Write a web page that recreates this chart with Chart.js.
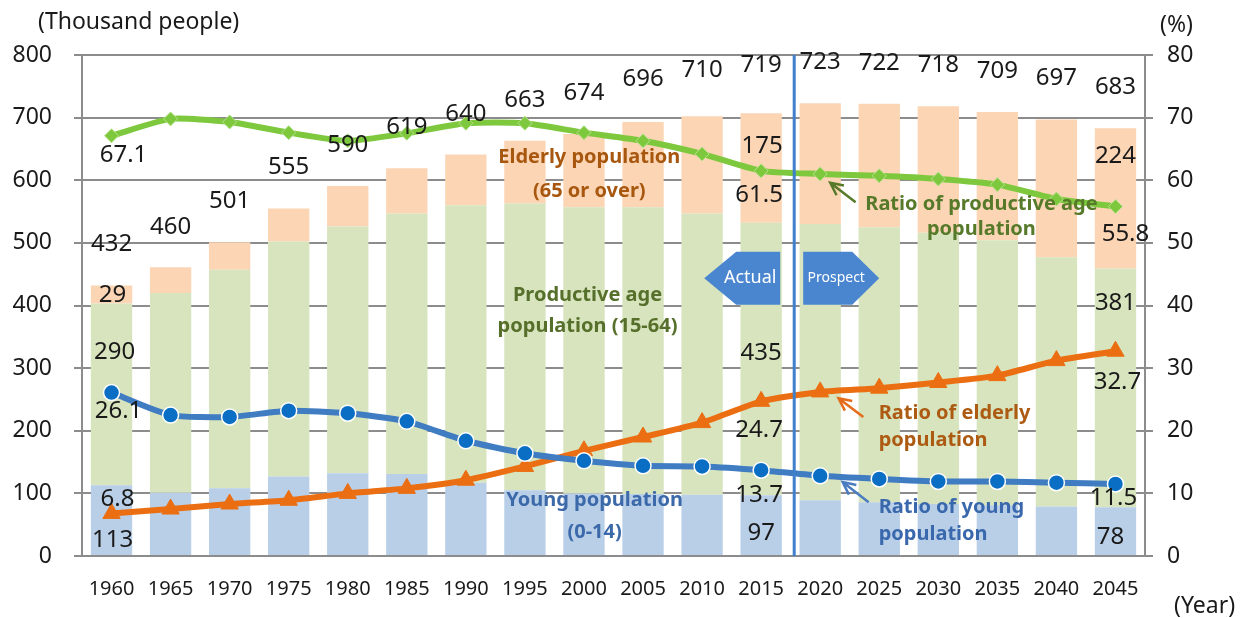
<!DOCTYPE html>
<html>
<head>
<meta charset="utf-8">
<script src="https://cdn.jsdelivr.net/npm/chart.js@4.4.1/dist/chart.umd.min.js"></script>
<style>
  html, body { margin: 0; padding: 0; background: #fff; }
  #wrap { width: 1243px; height: 618px; position: relative; }
</style>
</head>
<body>
<div id="wrap"><canvas id="popChart"></canvas></div>
<script>
// data
const years = ['1960','1965','1970','1975','1980','1985','1990','1995','2000','2005','2010','2015','2020','2025','2030','2035','2040','2045'];
const youngPop      = [113,101,108,127,132,131,117,105,100, 99, 98, 97, 89, 86, 83, 81, 79, 78];
const productivePop = [290,319,349,375,394,416,443,458,457,458,449,435,441,439,433,423,398,381];
const elderlyPop    = [ 29, 41, 44, 53, 65, 72, 81,100,117,136,155,175,193,197,202,205,220,224];
const totalPop      = [432,460,501,555,590,619,640,663,674,696,710,719,723,722,718,709,697,683];
const youngRatio      = [26.1,22.5,22.2,23.2,22.8,21.5,18.4,16.4,15.2,14.4,14.3,13.7,12.8,12.3,11.9,11.9,11.7,11.5];
const productiveRatio = [67.1,69.8,69.3,67.6,66.3,67.5,69.1,69.1,67.6,66.3,64.2,61.5,61.0,60.7,60.2,59.3,57.0,55.8];
const elderlyRatio    = [ 6.8, 7.5, 8.3, 8.9,10.0,10.8,12.1,14.3,16.8,19.0,21.3,24.7,26.2,26.8,27.7,28.8,31.2,32.7];

const FONT = '"Noto Sans", "DejaVu Sans", sans-serif';
const GRID = '#8c8c8c';

// which values get a number printed next to them: [dataset, index, dx, dy]
const valueLabels = [
  [2, 0, 1, 10], [1, 0, 3, 49], [0, 0, 1, 55], [3, 0, 12, 19], [4, 0, 7, 19], [5, 0, 6, -14],
  [2, 11, 1, 33], [1, 11, 0, 130], [0, 11, 0, 38], [3, 11, -2, 24], [5, 11, -2, 29], [4, 11, -2, 25],
  [2, 17, 0, 28], [1, 17, 0, 35], [0, 17, -5, 30], [3, 17, 10, 28], [5, 17, 2, 31], [4, 17, -2, 14]
];

const labelPlugin = {
  id: 'labels',
  afterDatasetsDraw(chart) {
    const ctx = chart.ctx;
    const x = chart.scales.x, y = chart.scales.y;
    const area = chart.chartArea;
    ctx.save();

    // Actual / Prospect divider
    const xLine = x.getPixelForValue(11.56);
    ctx.strokeStyle = '#3f7fcc';
    ctx.lineWidth = 3;
    ctx.beginPath();
    ctx.moveTo(xLine, area.top);
    ctx.lineTo(xLine, area.bottom);
    ctx.stroke();

    const top = y.getPixelForValue(486), bot = y.getPixelForValue(401), mid = (top + bot) / 2;
    ctx.fillStyle = '#4a86cf';
    // Actual arrow (points left)
    let r = xLine - 14, l = r - 76;
    ctx.beginPath();
    ctx.moveTo(l, mid); ctx.lineTo(l + 32, top); ctx.lineTo(r, top);
    ctx.lineTo(r, bot); ctx.lineTo(l + 32, bot); ctx.closePath(); ctx.fill();
    // Prospect arrow (points right)
    l = xLine + 9; r = l + 76;
    ctx.beginPath();
    ctx.moveTo(l, top); ctx.lineTo(r - 27, top); ctx.lineTo(r, mid);
    ctx.lineTo(r - 27, bot); ctx.lineTo(l, bot); ctx.closePath(); ctx.fill();
    ctx.fillStyle = '#ffffff';
    ctx.textAlign = 'center';
    ctx.textBaseline = 'middle';
    ctx.font = '18px ' + FONT;
    ctx.fillText('Actual', xLine - 14 - 30, mid);
    ctx.font = '14px ' + FONT;
    ctx.fillText('Prospect', xLine + 9 + 33, mid);

    // totals above bars
    ctx.fillStyle = '#1a1a1a';
    ctx.font = '24px ' + FONT;
    totalPop.forEach((v, i) => {
      ctx.fillText(String(v), x.getPixelForValue(i), y.getPixelForValue(v) - 41);
    });

    // selected values
    valueLabels.forEach(([d, i, dx, dy]) => {
      const el = chart.getDatasetMeta(d).data[i];
      const v = chart.data.datasets[d].data[i];
      ctx.fillText(d >= 3 ? v.toFixed(1) : String(v), el.x + dx, el.y + dy);
    });

    // series names inside the plot
    const txt = (s, col, i, v, align) => {
      ctx.fillStyle = col;
      ctx.textAlign = align;
      ctx.fillText(s, x.getPixelForValue(i), y.getPixelForValue(v));
    };
    ctx.font = 'bold 20px ' + FONT;
    txt('Elderly population', '#a8570f', 8.09, 636, 'center');
    txt('(65 or over)', '#a8570f', 8.09, 583, 'center');
    txt('Productive age', '#566f2a', 8.06, 417, 'center');
    txt('population (15-64)', '#566f2a', 8.06, 367, 'center');
    txt('Young population', '#3c69aa', 8.18, 89.5, 'center');
    txt('(0-14)', '#3c69aa', 8.18, 38, 'center');
    txt('Ratio of productive age', '#567a2a', 14.73, 562, 'center');
    txt('population', '#567a2a', 14.73, 522, 'center');
    txt('Ratio of elderly', '#ad5a12', 12.99, 228, 'left');
    txt('population', '#ad5a12', 12.99, 185, 'left');
    txt('Ratio of young', '#3a68ad', 12.99, 77, 'left');
    txt('population', '#3a68ad', 12.99, 34, 'left');

    // pointer arrows
    const arrow = (col, i0, v0, i1, v1) => {
      const x0 = x.getPixelForValue(i0), y0 = y.getPixelForValue(v0);
      const x1 = x.getPixelForValue(i1), y1p = y.getPixelForValue(v1);
      const a = Math.atan2(y1p - y0, x1 - x0);
      ctx.strokeStyle = col;
      ctx.lineWidth = 2.5;
      ctx.beginPath();
      ctx.moveTo(x0, y0); ctx.lineTo(x1, y1p);
      ctx.moveTo(x1 + 14 * Math.cos(a + Math.PI - 0.45), y1p + 14 * Math.sin(a + Math.PI - 0.45));
      ctx.lineTo(x1, y1p);
      ctx.lineTo(x1 + 14 * Math.cos(a + Math.PI + 0.45), y1p + 14 * Math.sin(a + Math.PI + 0.45));
      ctx.stroke();
    };
    arrow('#567a2a', 12.6, 565, 12.17, 596);
    arrow('#e46c1a', 12.73, 222, 12.31, 252);
    arrow('#4a7cc0', 12.82, 86, 12.38, 118);

    // axis units
    ctx.fillStyle = '#1a1a1a';
    ctx.font = '23px ' + FONT;
    ctx.textAlign = 'left';
    ctx.fillText('(Thousand people)', 38, 22);
    ctx.fillText('(%)', 1160, 25);
    ctx.fillText('(Year)', 1174, 606);
    ctx.restore();
  }
};

new Chart(document.getElementById('popChart'), {
  type: 'bar',
  data: {
    labels: years,
    datasets: [
      { label: 'Young population', data: youngPop, backgroundColor: '#b9cfe8', yAxisID: 'y', stack: 'pop', order: 2 },
      { label: 'Productive age population', data: productivePop, backgroundColor: '#d7e4bd', yAxisID: 'y', stack: 'pop', order: 2 },
      { label: 'Elderly population', data: elderlyPop, backgroundColor: '#fcd5b4', yAxisID: 'y', stack: 'pop', order: 2 },
      {
        type: 'line', label: 'Ratio of productive age population', data: productiveRatio, yAxisID: 'y1', order: 1,
        borderColor: '#7dc83c', backgroundColor: '#7dc83c', borderWidth: 6, tension: 0.2,
        pointStyle: 'rectRot', pointRadius: 7, pointBorderColor: '#b6e28f', pointBorderWidth: 1
      },
      {
        type: 'line', label: 'Ratio of young population', data: youngRatio, yAxisID: 'y1', order: 0,
        borderColor: '#3f7cc2', backgroundColor: '#0a6fc4', borderWidth: 6, tension: 0.2,
        pointStyle: 'circle', pointRadius: 8, pointBorderColor: '#ffffff', pointBorderWidth: 1.5
      },
      {
        type: 'line', label: 'Ratio of elderly population', data: elderlyRatio, yAxisID: 'y1', order: 0,
        borderColor: '#eb6f12', backgroundColor: '#eb6f12', borderWidth: 6, tension: 0.2,
        pointStyle: 'triangle', pointRadius: 10, pointBorderColor: '#eb6f12', pointBorderWidth: 1
      }
    ]
  },
  options: {
    responsive: true,
    maintainAspectRatio: false,
    animation: false,
    layout: { padding: { top: 55, left: 0, right: 0, bottom: 0 } },
    datasets: { bar: { barPercentage: 0.7, categoryPercentage: 1 } },
    plugins: { legend: { display: false }, tooltip: { enabled: false } },
    scales: {
      x: {
        stacked: true,
        grid: { display: false, drawTicks: false },
        border: { display: false },
        ticks: { color: '#1a1a1a', font: { family: FONT, size: 20 }, padding: 21, maxRotation: 0 },
        afterFit: s => { s.height = 62; }
      },
      y: {
        position: 'left',
        stacked: true,
        min: 0, max: 800,
        ticks: { stepSize: 100, color: '#1a1a1a', font: { family: FONT, size: 23 }, padding: 22 },
        grid: { color: GRID, lineWidth: 2, tickLength: 8 },
        border: { color: GRID, width: 2 },
        afterFit: s => { s.width = 82; }
      },
      y1: {
        position: 'right',
        stacked: false,
        min: 0, max: 80,
        ticks: { stepSize: 10, color: '#1a1a1a', font: { family: FONT, size: 23 }, padding: 14 },
        grid: { drawOnChartArea: false, color: GRID, lineWidth: 2, tickLength: 8 },
        border: { color: GRID, width: 2 },
        afterFit: s => { s.width = 98; }
      }
    }
  },
  plugins: [labelPlugin]
});
</script>
</body>
</html>
